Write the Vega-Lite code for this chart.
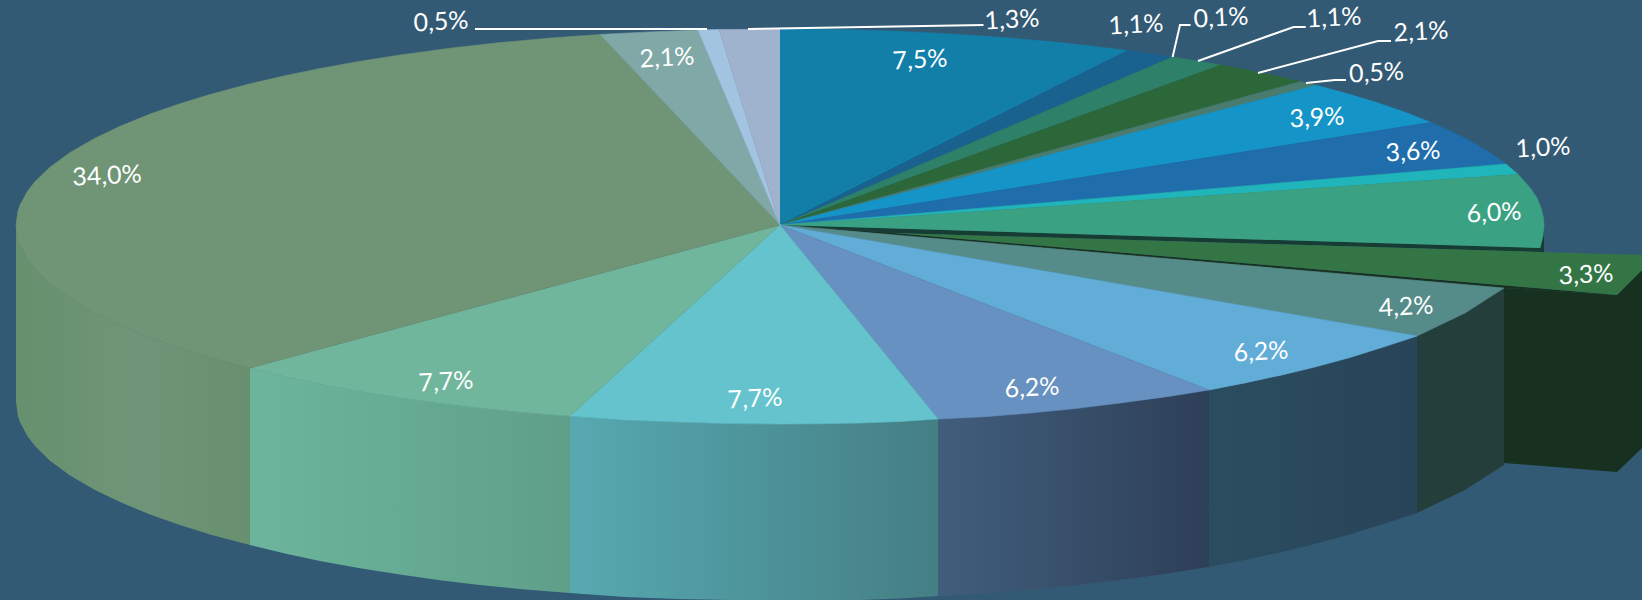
{
"$schema":"https://vega.github.io/schema/vega-lite/v6.json",
"width":1642,"height":600,"padding":0,"autosize":{"type":"none"},
"background":"#335a74",
"config":{"view":{"stroke":null}},
"datasets":{
"top":[
{"slice":"7,5%","i":0,"x":780,"y":225},{"slice":"7,5%","i":1,"x":780,"y":29},{"slice":"7,5%","i":2,"x":815,"y":29.2},{"slice":"7,5%","i":3,"x":850,"y":29.8},{"slice":"7,5%","i":4,"x":900,"y":31.4},{"slice":"7,5%","i":5,"x":950,"y":33.9},{"slice":"7,5%","i":6,"x":1000,"y":37.3},{"slice":"7,5%","i":7,"x":1050,"y":41.6},{"slice":"7,5%","i":8,"x":1090,"y":45.9},{"slice":"7,5%","i":9,"x":1127.7,"y":50.5},
{"slice":"1,1% a","i":0,"x":780,"y":225},{"slice":"1,1% a","i":1,"x":1127.7,"y":50.5},{"slice":"1,1% a","i":2,"x":1172.6,"y":56.9},
{"slice":"1,1% b","i":0,"x":780,"y":225},{"slice":"1,1% b","i":1,"x":1172.6,"y":56.9},{"slice":"1,1% b","i":2,"x":1221,"y":65},
{"slice":"2,1% a","i":0,"x":780,"y":225},{"slice":"2,1% a","i":1,"x":1221,"y":65},{"slice":"2,1% a","i":2,"x":1260,"y":72.5},{"slice":"2,1% a","i":3,"x":1300.5,"y":81.5},
{"slice":"0,5% a","i":0,"x":780,"y":225},{"slice":"0,5% a","i":1,"x":1300.5,"y":81.5},{"slice":"0,5% a","i":2,"x":1316,"y":85.3},
{"slice":"3,9%","i":0,"x":780,"y":225},{"slice":"3,9%","i":1,"x":1316,"y":85.3},{"slice":"3,9%","i":2,"x":1345,"y":93},{"slice":"3,9%","i":3,"x":1375,"y":102},{"slice":"3,9%","i":4,"x":1403,"y":111.5},{"slice":"3,9%","i":5,"x":1431,"y":122.4},
{"slice":"3,6%","i":0,"x":780,"y":225},{"slice":"3,6%","i":1,"x":1431,"y":122.4},{"slice":"3,6%","i":2,"x":1451,"y":131.3},{"slice":"3,6%","i":3,"x":1470,"y":140.8},{"slice":"3,6%","i":4,"x":1489,"y":152},{"slice":"3,6%","i":5,"x":1506,"y":164},
{"slice":"1,0%","i":0,"x":780,"y":225},{"slice":"1,0%","i":1,"x":1506,"y":164},{"slice":"1,0%","i":2,"x":1518,"y":174.3},
{"slice":"6,0%","i":0,"x":780,"y":225},{"slice":"6,0%","i":1,"x":1518,"y":174.3},{"slice":"6,0%","i":2,"x":1530,"y":187.7},{"slice":"6,0%","i":3,"x":1537,"y":198},{"slice":"6,0%","i":4,"x":1541,"y":208},{"slice":"6,0%","i":5,"x":1543.5,"y":218},{"slice":"6,0%","i":6,"x":1544,"y":226},{"slice":"6,0%","i":7,"x":1543,"y":236},{"slice":"6,0%","i":8,"x":1540,"y":248},
{"slice":"4,2%","i":0,"x":780,"y":225},{"slice":"4,2%","i":1,"x":1504,"y":288},{"slice":"4,2%","i":2,"x":1465,"y":313},{"slice":"4,2%","i":3,"x":1417,"y":336},
{"slice":"6,2% a","i":0,"x":780,"y":225},{"slice":"6,2% a","i":1,"x":1417,"y":336},{"slice":"6,2% a","i":2,"x":1385,"y":346.5},{"slice":"6,2% a","i":3,"x":1350,"y":357.5},{"slice":"6,2% a","i":4,"x":1315,"y":367},{"slice":"6,2% a","i":5,"x":1280,"y":375.4},{"slice":"6,2% a","i":6,"x":1245,"y":382.9},{"slice":"6,2% a","i":7,"x":1209,"y":390},
{"slice":"6,2% b","i":0,"x":780,"y":225},{"slice":"6,2% b","i":1,"x":1209,"y":390},{"slice":"6,2% b","i":2,"x":1165,"y":396.9},{"slice":"6,2% b","i":3,"x":1120,"y":403},{"slice":"6,2% b","i":4,"x":1075,"y":408.6},{"slice":"6,2% b","i":5,"x":1030,"y":413},{"slice":"6,2% b","i":6,"x":985,"y":416.7},{"slice":"6,2% b","i":7,"x":938,"y":419},
{"slice":"7,7% a","i":0,"x":780,"y":225},{"slice":"7,7% a","i":1,"x":938,"y":419},{"slice":"7,7% a","i":2,"x":900,"y":421.5},{"slice":"7,7% a","i":3,"x":860,"y":423},{"slice":"7,7% a","i":4,"x":820,"y":423.7},{"slice":"7,7% a","i":5,"x":780,"y":424},{"slice":"7,7% a","i":6,"x":730,"y":423.6},{"slice":"7,7% a","i":7,"x":680,"y":422},{"slice":"7,7% a","i":8,"x":625,"y":419.9},{"slice":"7,7% a","i":9,"x":570,"y":416},
{"slice":"7,7% b","i":0,"x":780,"y":225},{"slice":"7,7% b","i":1,"x":570,"y":416},{"slice":"7,7% b","i":2,"x":525,"y":412.6},{"slice":"7,7% b","i":3,"x":480,"y":408},{"slice":"7,7% b","i":4,"x":440,"y":403.2},{"slice":"7,7% b","i":5,"x":400,"y":397.6},{"slice":"7,7% b","i":6,"x":360,"y":391.2},{"slice":"7,7% b","i":7,"x":320,"y":383.9},{"slice":"7,7% b","i":8,"x":285,"y":376.6},{"slice":"7,7% b","i":9,"x":250,"y":368},
{"slice":"34,0%","i":0,"x":780,"y":225},{"slice":"34,0%","i":1,"x":250,"y":368},{"slice":"34,0%","i":2,"x":210,"y":357.5},{"slice":"34,0%","i":3,"x":180,"y":348},{"slice":"34,0%","i":4,"x":150,"y":337.6},{"slice":"34,0%","i":5,"x":120,"y":325},{"slice":"34,0%","i":6,"x":95,"y":313.1},{"slice":"34,0%","i":7,"x":70,"y":298.5},{"slice":"34,0%","i":8,"x":50,"y":283.7},{"slice":"34,0%","i":9,"x":35,"y":269},{"slice":"34,0%","i":10,"x":27,"y":258.6},{"slice":"34,0%","i":11,"x":20,"y":245},{"slice":"34,0%","i":12,"x":18,"y":239.4},{"slice":"34,0%","i":13,"x":16,"y":225},{"slice":"34,0%","i":14,"x":18,"y":210.8},{"slice":"34,0%","i":15,"x":20,"y":205},{"slice":"34,0%","i":16,"x":27,"y":191.9},{"slice":"34,0%","i":17,"x":35,"y":181.5},{"slice":"34,0%","i":18,"x":50,"y":167.2},{"slice":"34,0%","i":19,"x":70,"y":152.6},{"slice":"34,0%","i":20,"x":95,"y":138.2},{"slice":"34,0%","i":21,"x":120,"y":126.3},{"slice":"34,0%","i":22,"x":150,"y":114.1},{"slice":"34,0%","i":23,"x":180,"y":103.7},{"slice":"34,0%","i":24,"x":210,"y":94.5},{"slice":"34,0%","i":25,"x":250,"y":83.8},{"slice":"34,0%","i":26,"x":285,"y":75.7},{"slice":"34,0%","i":27,"x":320,"y":68.5},{"slice":"34,0%","i":28,"x":360,"y":61.3},{"slice":"34,0%","i":29,"x":400,"y":55},{"slice":"34,0%","i":30,"x":450,"y":48.2},{"slice":"34,0%","i":31,"x":500,"y":42.6},{"slice":"34,0%","i":32,"x":550,"y":38.1},{"slice":"34,0%","i":33,"x":600,"y":34.5},
{"slice":"2,1% b","i":0,"x":780,"y":225},{"slice":"2,1% b","i":1,"x":600,"y":34.5},{"slice":"2,1% b","i":2,"x":650,"y":31.9},{"slice":"2,1% b","i":3,"x":698,"y":30.1},
{"slice":"0,5% b","i":0,"x":780,"y":225},{"slice":"0,5% b","i":1,"x":698,"y":30.1},{"slice":"0,5% b","i":2,"x":719,"y":29.6},
{"slice":"1,3%","i":0,"x":780,"y":225},{"slice":"1,3%","i":1,"x":719,"y":29.6},{"slice":"1,3%","i":2,"x":780,"y":29}
],
"wall":[
{"slice":"34,0%","i":0,"x":16,"y":225},{"slice":"34,0%","i":1,"x":18,"y":239.4},{"slice":"34,0%","i":2,"x":20,"y":245},{"slice":"34,0%","i":3,"x":27,"y":258.6},{"slice":"34,0%","i":4,"x":35,"y":269},{"slice":"34,0%","i":5,"x":50,"y":283.7},{"slice":"34,0%","i":6,"x":70,"y":298.5},{"slice":"34,0%","i":7,"x":95,"y":313.1},{"slice":"34,0%","i":8,"x":120,"y":325},{"slice":"34,0%","i":9,"x":150,"y":337.6},{"slice":"34,0%","i":10,"x":180,"y":348},{"slice":"34,0%","i":11,"x":210,"y":357.5},{"slice":"34,0%","i":12,"x":250,"y":368},
{"slice":"34,0%","i":13,"x":250,"y":545},{"slice":"34,0%","i":14,"x":210,"y":534.5},{"slice":"34,0%","i":15,"x":180,"y":525},{"slice":"34,0%","i":16,"x":150,"y":514.6},{"slice":"34,0%","i":17,"x":120,"y":502},{"slice":"34,0%","i":18,"x":95,"y":490.1},{"slice":"34,0%","i":19,"x":70,"y":475.5},{"slice":"34,0%","i":20,"x":50,"y":460.7},{"slice":"34,0%","i":21,"x":35,"y":446},{"slice":"34,0%","i":22,"x":27,"y":435.6},{"slice":"34,0%","i":23,"x":20,"y":422},{"slice":"34,0%","i":24,"x":18,"y":416.4},{"slice":"34,0%","i":25,"x":16,"y":402},
{"slice":"7,7% b","i":0,"x":250,"y":368},{"slice":"7,7% b","i":1,"x":285,"y":376.6},{"slice":"7,7% b","i":2,"x":320,"y":383.9},{"slice":"7,7% b","i":3,"x":360,"y":391.2},{"slice":"7,7% b","i":4,"x":400,"y":397.6},{"slice":"7,7% b","i":5,"x":440,"y":403.2},{"slice":"7,7% b","i":6,"x":480,"y":408},{"slice":"7,7% b","i":7,"x":525,"y":412.6},{"slice":"7,7% b","i":8,"x":570,"y":416},
{"slice":"7,7% b","i":9,"x":570,"y":593},{"slice":"7,7% b","i":10,"x":525,"y":589.6},{"slice":"7,7% b","i":11,"x":480,"y":585},{"slice":"7,7% b","i":12,"x":440,"y":580.2},{"slice":"7,7% b","i":13,"x":400,"y":574.6},{"slice":"7,7% b","i":14,"x":360,"y":568.2},{"slice":"7,7% b","i":15,"x":320,"y":560.9},{"slice":"7,7% b","i":16,"x":285,"y":553.6},{"slice":"7,7% b","i":17,"x":250,"y":545},
{"slice":"7,7% a","i":0,"x":570,"y":416},{"slice":"7,7% a","i":1,"x":625,"y":419.9},{"slice":"7,7% a","i":2,"x":680,"y":422},{"slice":"7,7% a","i":3,"x":730,"y":423.6},{"slice":"7,7% a","i":4,"x":780,"y":424},{"slice":"7,7% a","i":5,"x":820,"y":423.7},{"slice":"7,7% a","i":6,"x":860,"y":423},{"slice":"7,7% a","i":7,"x":900,"y":421.5},{"slice":"7,7% a","i":8,"x":938,"y":419},
{"slice":"7,7% a","i":9,"x":938,"y":596},{"slice":"7,7% a","i":10,"x":900,"y":598.5},{"slice":"7,7% a","i":11,"x":860,"y":600},{"slice":"7,7% a","i":12,"x":780,"y":600},{"slice":"7,7% a","i":13,"x":730,"y":600},{"slice":"7,7% a","i":14,"x":680,"y":599},{"slice":"7,7% a","i":15,"x":625,"y":596.9},{"slice":"7,7% a","i":16,"x":570,"y":593},
{"slice":"6,2% b","i":0,"x":938,"y":419},{"slice":"6,2% b","i":1,"x":985,"y":416.7},{"slice":"6,2% b","i":2,"x":1030,"y":413},{"slice":"6,2% b","i":3,"x":1075,"y":408.6},{"slice":"6,2% b","i":4,"x":1120,"y":403},{"slice":"6,2% b","i":5,"x":1165,"y":396.9},{"slice":"6,2% b","i":6,"x":1209,"y":390},
{"slice":"6,2% b","i":7,"x":1209,"y":567},{"slice":"6,2% b","i":8,"x":1165,"y":573.9},{"slice":"6,2% b","i":9,"x":1120,"y":580},{"slice":"6,2% b","i":10,"x":1075,"y":585.6},{"slice":"6,2% b","i":11,"x":1030,"y":590},{"slice":"6,2% b","i":12,"x":985,"y":593.7},{"slice":"6,2% b","i":13,"x":938,"y":596},
{"slice":"6,2% a","i":0,"x":1209,"y":390},{"slice":"6,2% a","i":1,"x":1245,"y":382.9},{"slice":"6,2% a","i":2,"x":1280,"y":375.4},{"slice":"6,2% a","i":3,"x":1315,"y":367},{"slice":"6,2% a","i":4,"x":1350,"y":357.5},{"slice":"6,2% a","i":5,"x":1385,"y":346.5},{"slice":"6,2% a","i":6,"x":1417,"y":336},
{"slice":"6,2% a","i":7,"x":1417,"y":513},{"slice":"6,2% a","i":8,"x":1385,"y":523.5},{"slice":"6,2% a","i":9,"x":1350,"y":534.5},{"slice":"6,2% a","i":10,"x":1315,"y":544},{"slice":"6,2% a","i":11,"x":1280,"y":552.4},{"slice":"6,2% a","i":12,"x":1245,"y":559.9},{"slice":"6,2% a","i":13,"x":1209,"y":567},
{"slice":"4,2%","i":0,"x":1417,"y":336},{"slice":"4,2%","i":1,"x":1465,"y":313},{"slice":"4,2%","i":2,"x":1504,"y":288},{"slice":"4,2%","i":3,"x":1504,"y":465},{"slice":"4,2%","i":4,"x":1465,"y":490},{"slice":"4,2%","i":5,"x":1417,"y":513}
],
"explodedWall":[
{"slice":"3,3%","i":0,"x":1504,"y":288},{"slice":"3,3%","i":1,"x":1617,"y":295},{"slice":"3,3%","i":2,"x":1642,"y":270},{"slice":"3,3%","i":3,"x":1642,"y":448},{"slice":"3,3%","i":4,"x":1617,"y":472},{"slice":"3,3%","i":5,"x":1504,"y":463}
],
"gapUpper":[
{"slice":"gap","i":0,"x":780,"y":225},{"slice":"gap","i":1,"x":1540,"y":248},{"slice":"gap","i":2,"x":1544,"y":228},{"slice":"gap","i":3,"x":1544,"y":252},{"slice":"gap","i":4,"x":893,"y":233}
],
"gapLower":[
{"slice":"gap","i":0,"x":780,"y":225},{"slice":"gap","i":1,"x":893,"y":233},{"slice":"gap","i":2,"x":1617,"y":295},{"slice":"gap","i":3,"x":1504,"y":288}
],
"explodedTop":[
{"slice":"3,3%","i":0,"x":893,"y":233},{"slice":"3,3%","i":1,"x":1642,"y":255},{"slice":"3,3%","i":2,"x":1642,"y":270},{"slice":"3,3%","i":3,"x":1617,"y":295}
],
"leader":[
{"slice":"0,5% b","i":0,"x":475,"y":29},{"slice":"0,5% b","i":1,"x":707,"y":29},
{"slice":"1,3%","i":0,"x":748,"y":29},{"slice":"1,3%","i":1,"x":983.5,"y":25},
{"slice":"0,1%","i":0,"x":1172.6,"y":57},{"slice":"0,1%","i":1,"x":1180,"y":25},{"slice":"0,1%","i":2,"x":1190.6,"y":25},
{"slice":"1,1%","i":0,"x":1198,"y":61},{"slice":"1,1%","i":1,"x":1293.6,"y":27},{"slice":"1,1%","i":2,"x":1305.7,"y":27},
{"slice":"2,1%","i":0,"x":1258,"y":73},{"slice":"2,1%","i":1,"x":1378,"y":41},{"slice":"2,1%","i":2,"x":1391,"y":41},
{"slice":"0,5% a","i":0,"x":1306,"y":83},{"slice":"0,5% a","i":1,"x":1335,"y":80},{"slice":"0,5% a","i":2,"x":1346,"y":80}
],
"labels":[
{"label":"7,5%","x":920,"y":60},{"label":"1,3%","x":1012,"y":20},{"label":"1,1%","x":1136,"y":25},{"label":"0,1%","x":1221,"y":18},{"label":"1,1%","x":1334,"y":18},{"label":"2,1%","x":1421,"y":32},{"label":"0,5%","x":1376.5,"y":73},{"label":"3,9%","x":1317,"y":118},{"label":"3,6%","x":1413,"y":152},{"label":"1,0%","x":1543,"y":148},{"label":"6,0%","x":1494,"y":213},{"label":"3,3%","x":1586,"y":275},{"label":"4,2%","x":1406,"y":307},{"label":"6,2%","x":1261,"y":352},{"label":"6,2%","x":1032,"y":388},{"label":"7,7%","x":755,"y":399},{"label":"7,7%","x":446,"y":382},{"label":"34,0%","x":107,"y":176},{"label":"0,5%","x":441,"y":22},{"label":"2,1%","x":667,"y":58}
]
},
"encoding":{
"x":{"field":"x","type":"quantitative","scale":{"domain":[0,1642],"nice":false,"zero":false},"axis":null},
"y":{"field":"y","type":"quantitative","scale":{"domain":[600,0],"nice":false,"zero":false},"axis":null}
},
"layer":[
{"data":{"name":"gapUpper"},"mark":{"type":"line","filled":true,"color":"#173c33"},"encoding":{"order":{"field":"i","type":"quantitative"}}},
{"data":{"name":"gapLower"},"mark":{"type":"line","filled":true,"color":"#17301f"},"encoding":{"order":{"field":"i","type":"quantitative"}}},
{"data":{"name":"explodedWall"},"mark":{"type":"line","filled":true,"color":"#17301f"},"encoding":{"order":{"field":"i","type":"quantitative"}}},
{"data":{"name":"wall"},"transform":[{"filter":"datum.slice==='34,0%'"}],"mark":{"type":"line","filled":true,"fill":{"gradient":"linear","x1":0,"x2":1,"y1":0,"y2":0,"stops":[{"offset":0,"color":"#66906e"},{"offset":0.5,"color":"#6e9577"},{"offset":1,"color":"#678f70"}]}},"encoding":{"order":{"field":"i","type":"quantitative"}}},
{"data":{"name":"wall"},"transform":[{"filter":"datum.slice==='7,7% b'"}],"mark":{"type":"line","filled":true,"fill":{"gradient":"linear","x1":0,"x2":1,"y1":0,"y2":0,"stops":[{"offset":0,"color":"#6cb59c"},{"offset":1,"color":"#5f9f89"}]}},"encoding":{"order":{"field":"i","type":"quantitative"}}},
{"data":{"name":"wall"},"transform":[{"filter":"datum.slice==='7,7% a'"}],"mark":{"type":"line","filled":true,"fill":{"gradient":"linear","x1":0,"x2":1,"y1":0,"y2":0,"stops":[{"offset":0,"color":"#57a9b1"},{"offset":1,"color":"#447f84"}]}},"encoding":{"order":{"field":"i","type":"quantitative"}}},
{"data":{"name":"wall"},"transform":[{"filter":"datum.slice==='6,2% b'"}],"mark":{"type":"line","filled":true,"fill":{"gradient":"linear","x1":0,"x2":1,"y1":0,"y2":0,"stops":[{"offset":0,"color":"#405e7c"},{"offset":1,"color":"#2e3f58"}]}},"encoding":{"order":{"field":"i","type":"quantitative"}}},
{"data":{"name":"wall"},"transform":[{"filter":"datum.slice==='6,2% a'"}],"mark":{"type":"line","filled":true,"fill":{"gradient":"linear","x1":0,"x2":1,"y1":0,"y2":0,"stops":[{"offset":0,"color":"#2b4d60"},{"offset":1,"color":"#284458"}]}},"encoding":{"order":{"field":"i","type":"quantitative"}}},
{"data":{"name":"wall"},"transform":[{"filter":"datum.slice==='4,2%'"}],"mark":{"type":"line","filled":true,"color":"#243e3c"},"encoding":{"order":{"field":"i","type":"quantitative"}}},
{"data":{"name":"top"},"mark":{"type":"line","filled":true,"strokeWidth":0.6},"encoding":{
"order":{"field":"i","type":"quantitative"},
"color":{"field":"slice","type":"nominal","legend":null,"scale":{
"domain":["7,5%","1,1% a","1,1% b","2,1% a","0,5% a","3,9%","3,6%","1,0%","6,0%","4,2%","6,2% a","6,2% b","7,7% a","7,7% b","34,0%","2,1% b","0,5% b","1,3%"],
"range":["#127fa9","#19628f","#2e8069","#2c6739","#4a7b6f","#1595c7","#1f6dab","#20b4bb","#3aa283","#558b88","#62acd8","#6691c0","#65c3cd","#70b69d","#6f9476","#7fa8a6","#a2c4e0","#a0b3ce"]}},
"stroke":{"field":"slice","type":"nominal","legend":null,"scale":{
"domain":["7,5%","1,1% a","1,1% b","2,1% a","0,5% a","3,9%","3,6%","1,0%","6,0%","4,2%","6,2% a","6,2% b","7,7% a","7,7% b","34,0%","2,1% b","0,5% b","1,3%"],
"range":["#127fa9","#19628f","#2e8069","#2c6739","#4a7b6f","#1595c7","#1f6dab","#20b4bb","#3aa283","#558b88","#62acd8","#6691c0","#65c3cd","#70b69d","#6f9476","#7fa8a6","#a2c4e0","#a0b3ce"]}}}},
{"data":{"name":"explodedTop"},"mark":{"type":"line","filled":true,"color":"#347546"},"encoding":{"order":{"field":"i","type":"quantitative"}}},
{"data":{"name":"leader"},"mark":{"type":"line","color":"#ffffff","strokeWidth":2},"encoding":{"order":{"field":"i","type":"quantitative"},"detail":{"field":"slice","type":"nominal"}}},
{"data":{"name":"labels"},"mark":{"type":"text","font":"Lato","fontSize":25,"color":"#ffffff","angle":357,"align":"center","baseline":"middle"},"encoding":{"text":{"field":"label","type":"nominal"}}}
]
}
